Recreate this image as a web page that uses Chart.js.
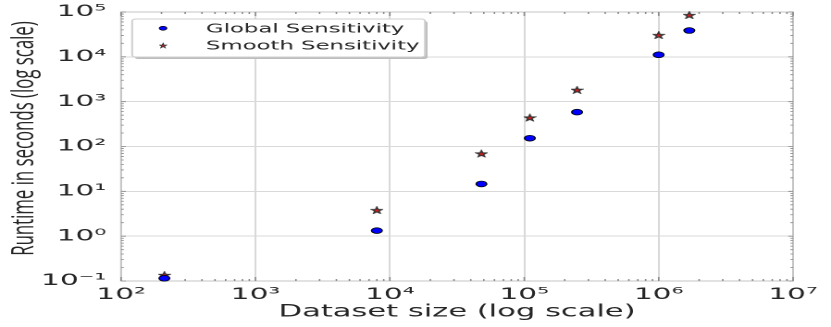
<!DOCTYPE html>
<html>
<head>
<meta charset="utf-8">
<script src="https://cdn.jsdelivr.net/npm/chart.js@4.4.1/dist/chart.umd.min.js"></script>
<style>
  html, body { margin: 0; padding: 0; background: #fff; overflow: hidden; }
  /* the original figure was squeezed into a wide frame, so stretch it sideways */
  #wrap { width: 449px; height: 327px; transform: scaleX(1.85078); transform-origin: 0 0; }
</style>
</head>
<body>
<div id="wrap"><canvas id="runtimeChart" width="449" height="327"></canvas></div>
<script>
// data
const datasetSizes = [210, 8000, 48000, 110000, 247000, 1000000, 1690000];
const globalRuntimes = [0.115, 1.33, 14.6, 153, 584, 11100, 38600];
const smoothRuntimes = [0.136, 3.8, 69.5, 441, 1830, 30500, 85300];
const seriesLabels = ["Global Sensitivity", "Smooth Sensitivity"];

const xTickValues = [1e2, 1e3, 1e4, 1e5, 1e6, 1e7];
const xTickLabels = ["10²", "10³", "10⁴", "10⁵", "10⁶", "10⁷"];
const yTickValues = [1e-1, 1e0, 1e1, 1e2, 1e3, 1e4, 1e5];
const yTickLabels = ["10⁻¹", "10⁰", "10¹", "10²", "10³", "10⁴", "10⁵"];
const minorSteps = [2, 3, 4, 5, 6, 7, 8, 9];

const xTitle = "Dataset size (log scale)";
const yTitle = "Runtime in seconds (log scale)";

const tickFont = { family: "'DejaVu Sans'", size: 16 };
const textColor = "#262626";

function logTicks(majors) {
    let ticks = [];
    for (let i = 0; i < majors.length; i++) {
        ticks.push({ value: majors[i], major: true });
        if (i < majors.length - 1) {
            minorSteps.forEach(k => ticks.push({ value: majors[i] * k, major: false }));
        }
    }
    return ticks;
}

function labelFor(value, values, labels) {
    for (let i = 0; i < values.length; i++) {
        if (Math.abs(Math.log10(value) - Math.log10(values[i])) < 1e-6) return labels[i];
    }
    return "";
}

function isDecade(v) {
    let l = Math.log10(v);
    return Math.abs(l - Math.round(l)) < 1e-6;
}

function makeStar() {
    const c = document.createElement("canvas");
    c.width = 64; c.height = 64;
    const g = c.getContext("2d");
    g.beginPath();
    for (let i = 0; i < 10; i++) {
        let r = i % 2 === 0 ? 27 : 27 * 0.40;
        let a = -Math.PI / 2 + i * Math.PI / 5;
        let px = 32 + r * Math.cos(a), py = 35 + r * Math.sin(a);
        if (i === 0) g.moveTo(px, py); else g.lineTo(px, py);
    }
    g.closePath();
    g.fillStyle = "#e81818";
    g.fill();
    g.lineWidth = 8;
    g.lineJoin = "miter";
    g.strokeStyle = "#333";
    g.stroke();
    const img = new Image();
    img.src = c.toDataURL();
    img.width = 7;
    img.height = 8.5;
    return img;
}

const starImg = makeStar();

// frame, inward tick marks, y title and the legend box
const decorPlugin = {
    id: "decor",
    beforeDatasetsDraw(chart) {
        const ctx = chart.ctx;
        const a = chart.chartArea;
        const xs = chart.scales.x, ys = chart.scales.y;
        ctx.save();
        ctx.strokeStyle = "#c4c4c4";
        ctx.lineWidth = 1;
        ctx.strokeRect(a.left, a.top, a.right - a.left, a.bottom - a.top);

        ctx.strokeStyle = "#8a8a8a";
        ctx.lineWidth = 0.8;
        ctx.beginPath();
        xs.ticks.forEach(t => {
            let px = xs.getPixelForValue(t.value);
            let len = isDecade(t.value) ? 4 : 2;
            ctx.moveTo(px, a.bottom); ctx.lineTo(px, a.bottom - len);
            ctx.moveTo(px, a.top); ctx.lineTo(px, a.top + len);
        });
        ys.ticks.forEach(t => {
            let py = ys.getPixelForValue(t.value);
            let len = isDecade(t.value) ? 2.6 : 1.5;
            ctx.moveTo(a.left, py); ctx.lineTo(a.left + len, py);
            ctx.moveTo(a.right, py); ctx.lineTo(a.right - len, py);
        });
        ctx.stroke();
        ctx.restore();
    },
    afterDraw(chart) {
        const ctx = chart.ctx;
        ctx.save();
        // y axis title
        ctx.translate(13.2, 138.5);
        ctx.rotate(-Math.PI / 2);
        ctx.font = "16.8px 'Open Sans'";
        ctx.fillStyle = textColor;
        ctx.textAlign = "center";
        ctx.textBaseline = "middle";
        ctx.fillText(yTitle, 0, 0);
        ctx.restore();

        // legend
        ctx.save();
        let bx = 71.4, by = 19, bw = 158.2, bh = 38;
        ctx.fillStyle = "#bdbdbd";
        ctx.beginPath();
        ctx.roundRect(bx + 1.4, by + 2, bw, bh, 2);
        ctx.fill();
        ctx.fillStyle = "#fff";
        ctx.strokeStyle = "#cfcfcf";
        ctx.lineWidth = 1;
        ctx.beginPath();
        ctx.roundRect(bx, by, bw, bh, 2);
        ctx.fill();
        ctx.stroke();

        let mx = 88.1;
        ctx.fillStyle = "#0000ff";
        ctx.strokeStyle = "#000";
        ctx.lineWidth = 0.6;
        ctx.beginPath();
        ctx.arc(mx, 28.3, 2, 0, Math.PI * 2);
        ctx.fill();
        ctx.stroke();
        ctx.drawImage(starImg, mx - 2.3, 45.5 - 2.8, 4.6, 5.6);

        ctx.font = "12.3px 'DejaVu Sans'";
        ctx.fillStyle = textColor;
        ctx.textAlign = "left";
        ctx.textBaseline = "alphabetic";
        ctx.fillText(chart.data.datasets[0].label, 111.3, 32.4);
        ctx.fillText(chart.data.datasets[1].label, 111.3, 49.4);
        ctx.restore();
    }
};

function draw() {
    const ctx = document.getElementById("runtimeChart").getContext("2d");
    new Chart(ctx, {
        type: "scatter",
        data: {
            datasets: [{
                label: seriesLabels[0],
                data: datasetSizes.map((s, i) => ({ x: s, y: globalRuntimes[i] })),
                pointStyle: "circle",
                pointRadius: 2.9,
                backgroundColor: "#0000ff",
                borderColor: "#000",
                borderWidth: 0.7,
                clip: false
            }, {
                label: seriesLabels[1],
                data: datasetSizes.map((s, i) => ({ x: s, y: smoothRuntimes[i] })),
                pointStyle: starImg,
                clip: false
            }]
        },
        options: {
            responsive: false,
            animation: false,
            devicePixelRatio: 2,
            layout: { padding: { top: 12, right: 20.5, bottom: 0, left: 0 } },
            plugins: {
                legend: { display: false },
                tooltip: { enabled: false }
            },
            scales: {
                x: {
                    type: "logarithmic",
                    min: 1e2,
                    max: 1e7,
                    afterBuildTicks: scale => { scale.ticks = logTicks(xTickValues); },
                    afterFit: scale => {
                        scale.height = 46;
                        scale.paddingLeft = 0;
                        scale.paddingRight = 0;
                    },
                    border: { display: false },
                    grid: {
                        drawTicks: false,
                        lineWidth: 1,
                        color: c => (c.tick && isDecade(c.tick.value)) ? "#d9d9d9" : "rgba(0,0,0,0)"
                    },
                    ticks: {
                        autoSkip: false,
                        maxRotation: 0,
                        padding: 4,
                        color: textColor,
                        font: tickFont,
                        callback: v => labelFor(v, xTickValues, xTickLabels)
                    },
                    title: {
                        display: true,
                        text: xTitle,
                        color: textColor,
                        font: { family: "'DejaVu Sans'", size: 16.5 },
                        padding: { top: 0, bottom: 5 }
                    }
                },
                y: {
                    type: "logarithmic",
                    min: 1e-1,
                    max: 1e5,
                    afterBuildTicks: scale => { scale.ticks = logTicks(yTickValues); },
                    afterFit: scale => {
                        scale.width = 65.4;
                        scale.paddingTop = 0;
                        scale.paddingBottom = 0;
                    },
                    border: { display: false },
                    grid: {
                        drawTicks: false,
                        lineWidth: 1,
                        color: c => (c.tick && isDecade(c.tick.value)) ? "#d9d9d9" : "rgba(0,0,0,0)"
                    },
                    ticks: {
                        autoSkip: false,
                        padding: 8,
                        color: textColor,
                        font: tickFont,
                        callback: v => labelFor(v, yTickValues, yTickLabels)
                    }
                }
            }
        },
        plugins: [decorPlugin]
    });
}

starImg.decode().then(draw, draw);
</script>
</body>
</html>
